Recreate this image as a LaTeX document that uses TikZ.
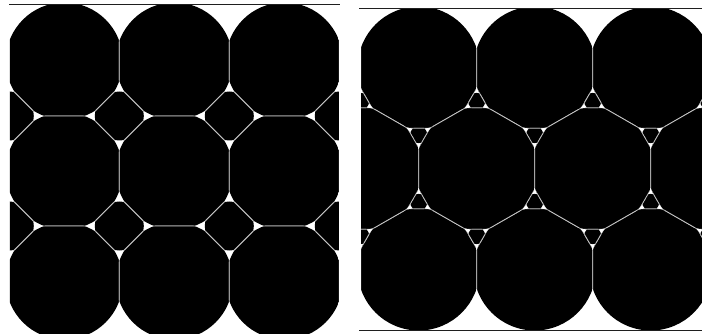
\documentclass[tikz,border=0pt]{standalone}
\tikzset{
  cellfill/.style={fill=black, draw=black!22, line width=0.8pt, line join=miter},
  rule/.style={draw=black!88, line width=1.2pt},
}
\newcommand\mycell[4]{%
  \begin{scope}[shift={(#1,#2)}]
    \clip (0,0) circle[radius=#3pt];
    \filldraw[cellfill] #4 -- cycle;
  \end{scope}}
\begin{document}
\begin{tikzpicture}[x=1pt,y=-1pt]
\useasboundingbox (0,0) rectangle (702,334);
% ---------- left panel: octagons and squares ----------
\begin{scope}
  \clip (9.8,5.3) rectangle (338.9,334);
  \foreach \cx in {64.3,174.3,284.3} {
    \mycell{\cx}{61}{58.5}{(55,-100) -- (55,26) -- (26,55) -- (-26,55) -- (-55,26) -- (-55,-100)}
    \mycell{\cx}{171}{58.5}{(55,-26) -- (55,26) -- (26,55) -- (-26,55) -- (-55,26) -- (-55,-26) -- (-26,-55) -- (26,-55)}
    \mycell{\cx}{281}{58.5}{(55,-26) -- (55,100) -- (-55,100) -- (-55,-26) -- (-26,-55) -- (26,-55)}
  }
  \foreach \sx in {9.3,119.3,229.3,339.3} {
    \foreach \sy in {116,226} {
      \mycell{\sx}{\sy}{24.5}{(29,0) -- (0,29) -- (-29,0) -- (0,-29)}
    }
  }
\end{scope}
\draw[rule] (9,4.5) -- (339.5,4.5);
% ---------- right panel: dodecagons and triangles ----------
\begin{scope}
  \clip (361.2,9.3) rectangle (702,329.8);
  \foreach \cx in {418.7,534.7,650.7} {
    \mycell{\cx}{67.5}{61}{(58,-100) -- (58,20.85) -- (46.73,40.32) -- (11.27,60.68) -- (-11.27,60.68) -- (-46.73,40.32) -- (-58,20.85) -- (-58,-100)}
    \mycell{\cx}{269.5}{61}{(58,-20.85) -- (58,100) -- (-58,100) -- (-58,-20.85) -- (-46.73,-40.32) -- (-11.27,-60.68) -- (11.27,-60.68) -- (46.73,-40.32)}
    \mycell{\cx}{134.65}{8.5}{(0,13) -- (11.27,-6.47) -- (-11.27,-6.47)}
    \mycell{\cx}{202.35}{8.5}{(0,-13) -- (11.27,6.47) -- (-11.27,6.47)}
  }
  \foreach \cx in {360.7,476.7,592.7,708.7} {
    \mycell{\cx}{168.5}{61}{(11.27,-60.68) -- (46.73,-40.32) -- (58,-20.85) -- (58,20.85) -- (46.73,40.32) -- (11.27,60.68) -- (-11.27,60.68) -- (-46.73,40.32) -- (-58,20.85) -- (-58,-20.85) -- (-46.73,-40.32) -- (-11.27,-60.68)}
    \mycell{\cx}{101.35}{8.5}{(0,-13) -- (11.27,6.47) -- (-11.27,6.47)}
    \mycell{\cx}{235.65}{8.5}{(0,13) -- (11.27,-6.47) -- (-11.27,-6.47)}
  }
\end{scope}
\draw[rule] (359.3,8.3) -- (702,8.3);
\draw[rule] (359.3,330.8) -- (702,330.8);
\end{tikzpicture}
\end{document}
